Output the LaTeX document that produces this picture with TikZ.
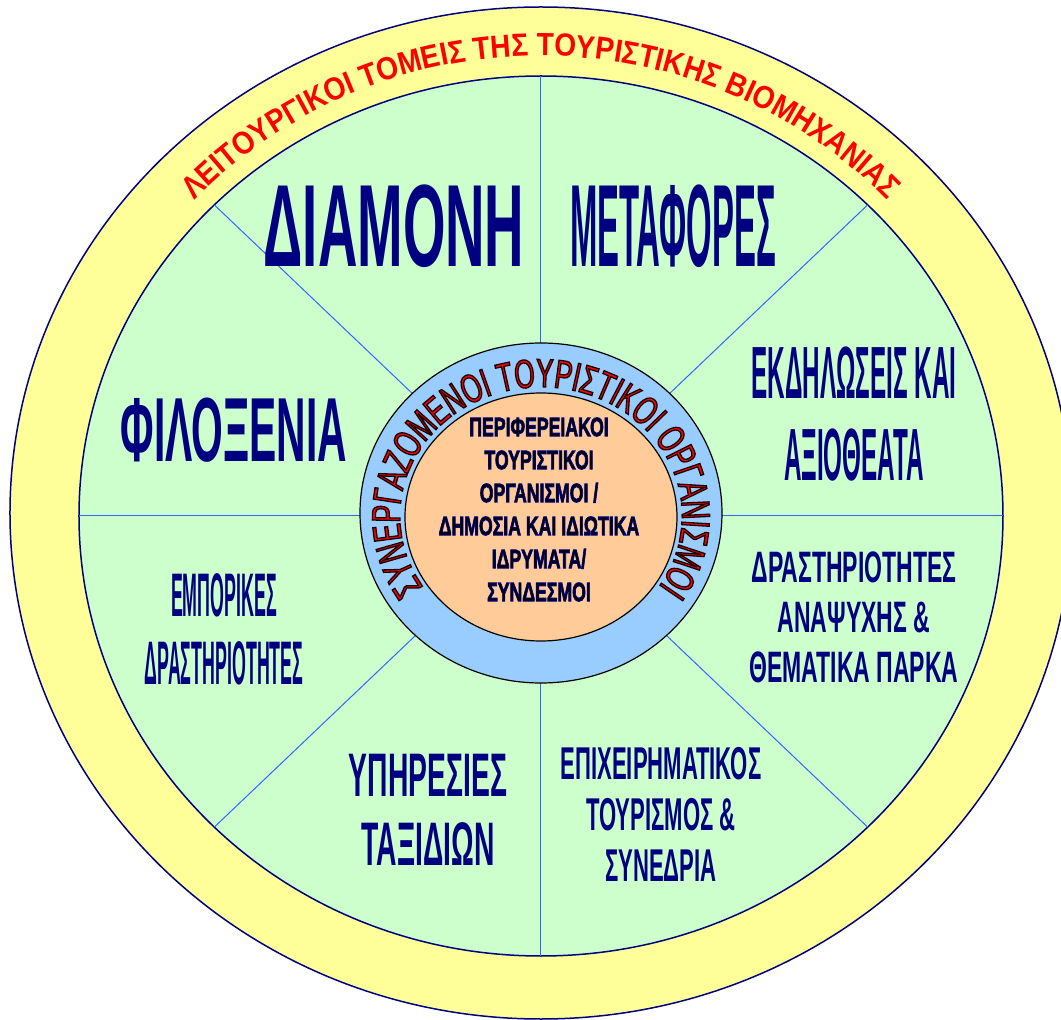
\documentclass[tikz,border=0pt]{standalone}
\usepackage{fontspec}
\setmainfont{Liberation Sans}
\newfontfamily\heavyfont{Liberation Sans}
\newfontfamily\bandfont{Liberation Sans}[FakeStretch=0.88]
\newfontfamily\ringfont{Liberation Sans}[FakeStretch=0.65]
\usetikzlibrary{decorations.text}
\definecolor{navy}{HTML}{000080}
\definecolor{band}{HTML}{FFFF99}
\definecolor{field}{HTML}{CCFFCC}
\definecolor{ring}{HTML}{99CCFF}
\definecolor{core}{HTML}{FFCC99}
\definecolor{spoke}{HTML}{3366FF}
\definecolor{wordred}{HTML}{FF0000}
% glyphs filled and stroked: #1 = stroke colour (rgb), #2 = stroke width
\newcommand\outlineglyphs[2]{\special{pdf:literal direct 2 Tr #2 w #1 RG}}
\tikzset{
  rim/.style={draw=navy, line width=1.5pt},
  hubrim/.style={draw=black, line width=1.2pt},
  spokeline/.style={draw=spoke, line width=1pt},
  sector/.style={text=navy, align=center, inner sep=0pt},
  sz/.style 2 args={font=\heavyfont\bfseries\fontsize{#1}{#2}\selectfont},
}

\begin{document}
\begin{tikzpicture}[x=1pt, y=1pt]
  \useasboundingbox (-541,-504) rectangle (520,516);
  \draw[rim, fill=band] (0,3) ellipse [x radius=531, y radius=506];
  \draw[rim, fill=field] (0,0) ellipse [x radius=462, y radius=440];
  \foreach \a in {0,45,...,315}
    \draw[spokeline] (0,0) -- (\a:462 and 440);
  \draw[hubrim, fill=ring] (0,3) ellipse [x radius=181, y radius=170];
  \draw[hubrim, fill=core] (0,-1) ellipse [x radius=136, y radius=124];

  % curved titles
  \path[decorate, decoration={text along path, text align=center,
      text={|\bandfont\bfseries\fontsize{32}{32}\selectfont\color{wordred}|ΛΕΙΤΟΥΡΓΙΚΟΙ ΤΟΜΕΙΣ ΤΗΣ ΤΟΥΡΙΣΤΙΚΗΣ ΒΙΟΜΗΧΑΝΙΑΣ}}]
    (170:476 and 460) arc [start angle=170, end angle=10, x radius=476, y radius=460];
  \path[decorate, decoration={text along path, text align=center,
      text={|\ringfont\fontsize{40}{40}\selectfont\color{wordred}\outlineglyphs{0.1 0 0}{1.3}|ΣΥΝΕΡΓΑΖΟΜΕΝΟΙ ΤΟΥΡΙΣΤΙΚΟΙ ΟΡΓΑΝΙΣΜΟΙ}}]
    (270:141 and 129) arc [start angle=270, end angle=-90, x radius=141, y radius=129];

  \node[sector, sz={117}{117}, xscale=0.467] (stay) at (-147,290) {ΔΙΑΜΟΝΗ};
  \node[sector, sz={117}{117}, xscale=0.281] (transport) at (132,290) {ΜΕΤΑΦΟΡΕΣ};
  \node[sector, sz={91}{91}, xscale=0.448] (hosting) at (-307,86) {ΦΙΛΟΞΕΝΙΑ};
  \node[sector, sz={74}{82}, xscale=0.328] (events) at (313,101.5) {ΕΚΔΗΛΩΣΕΙΣ ΚΑΙ\\ΑΞΙΟΘΕΑΤΑ};
  \node[sector, sz={44}{50}, xscale=0.523] (leisure) at (313,-101.5) {ΔΡΑΣΤΗΡΙΟΤΗΤΕΣ\\ΑΝΑΨΥΧΗΣ \&\\ΘΕΜΑΤΙΚΑ ΠΑΡΚΑ};
  \node[sector, sz={61.5}{68}, xscale=0.29] (trade) at (-317,-113) {ΕΜΠΟΡΙΚΕΣ\\ΔΡΑΣΤΗΡΙΟΤΗΤΕΣ};
  \node[sector, sz={61.5}{69}, xscale=0.46] (travel) at (-113,-293.5) {ΥΠΗΡΕΣΙΕΣ\\ΤΑΞΙΔΙΩΝ};
  \node[sector, sz={46}{51}, xscale=0.48] (business) at (120,-298.5) {ΕΠΙΧΕΙΡΗΜΑΤΙΚΟΣ\\ΤΟΥΡΙΣΜΟΣ \&\\ΣΥΝΕΔΡΙΑ};
  \node[sector, text=black, sz={26.5}{33}, xscale=0.667] (hub) at (-2,6.5)
    {\outlineglyphs{0 0 0.55}{0.9}ΠΕΡΙΦΕΡΕΙΑΚΟΙ\\ΤΟΥΡΙΣΤΙΚΟΙ\\ΟΡΓΑΝΙΣΜΟΙ /\\ΔΗΜΟΣΙΑ ΚΑΙ ΙΔΙΩΤΙΚΑ\\ΙΔΡΥΜΑΤΑ/\\ΣΥΝΔΕΣΜΟΙ};
\end{tikzpicture}
\end{document}
